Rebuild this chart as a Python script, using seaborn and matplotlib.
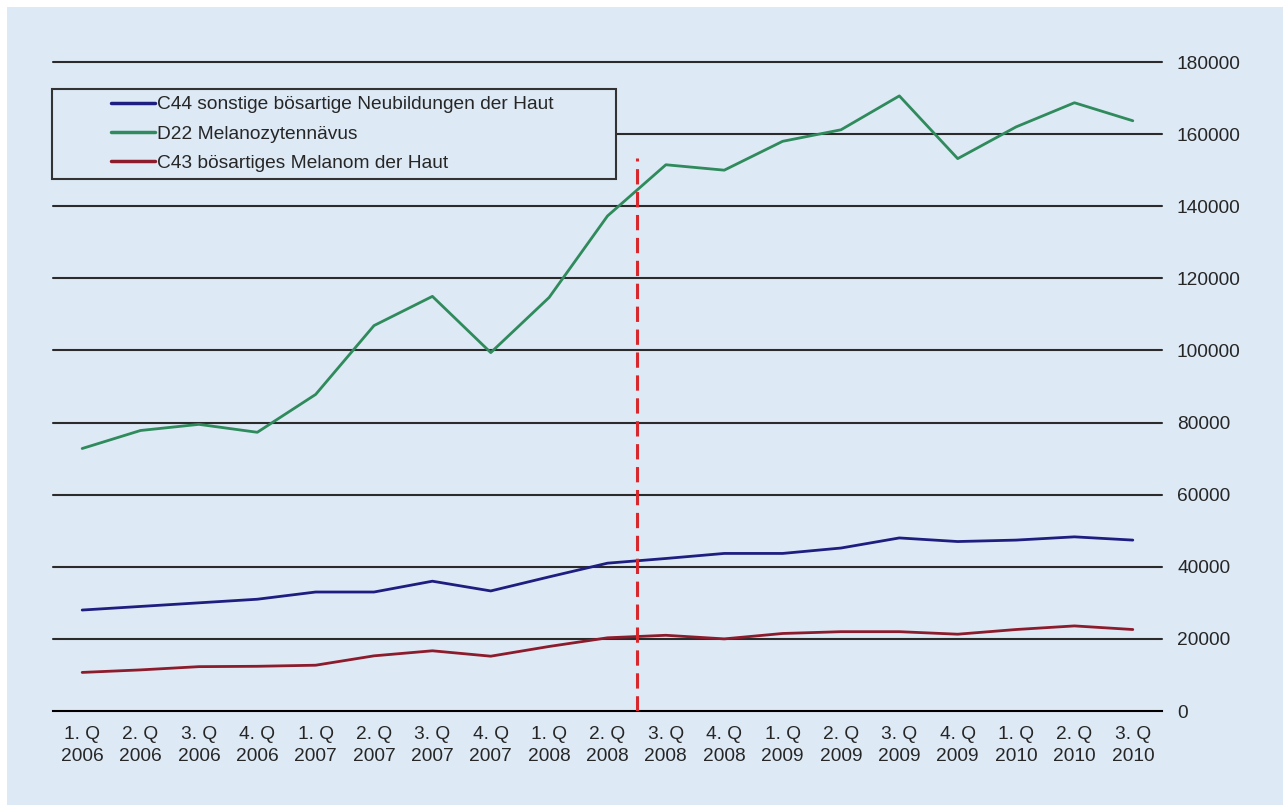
import matplotlib
matplotlib.use('Agg')

import matplotlib.pyplot as plt
import numpy as np
import pandas as pd
import seaborn as sns
from matplotlib.patches import Rectangle
from matplotlib.ticker import FixedLocator

# ------------------------------------------------------------
#     Data
# ------------------------------------------------------------

quarters = [
    "1. Q\n2006", "2. Q\n2006", "3. Q\n2006", "4. Q\n2006",
    "1. Q\n2007", "2. Q\n2007", "3. Q\n2007", "4. Q\n2007",
    "1. Q\n2008", "2. Q\n2008", "3. Q\n2008", "4. Q\n2008",
    "1. Q\n2009", "2. Q\n2009", "3. Q\n2009", "4. Q\n2009",
    "1. Q\n2010", "2. Q\n2010", "3. Q\n2010",
]

c44_values = [28000, 29000, 30000, 31000, 33000, 33000, 36000, 33300, 37200, 41000,
              42300, 43700, 43700, 45200, 48000, 47000, 47400, 48300, 47400]
d22_values = [72800, 77800, 79500, 77300, 87800, 106900, 115000, 99400, 114700, 137300,
              151500, 150000, 158000, 161200, 170600, 153200, 162000, 168700, 163700]
c43_values = [10700, 11400, 12300, 12400, 12700, 15300, 16700, 15200, 17900, 20300,
              21000, 20000, 21500, 22000, 22000, 21300, 22600, 23600, 22600]

series_names = [
    "C44 sonstige bösartige Neubildungen der Haut",
    "D22 Melanozytennävus",
    "C43 bösartiges Melanom der Haut",
]
series_colors = ["#1e1e80", "#2f8a5c", "#8c1b2b"]

y_ticks = [0, 20000, 40000, 60000, 80000, 100000, 120000, 140000, 160000, 180000]

# position of the red dashed break line (between 2. Q 2008 and 3. Q 2008)
break_pos = 9.5
break_top = 153500

# ------------------------------------------------------------
#     Build table
# ------------------------------------------------------------

rows = []
for name, vals in zip(series_names, [c44_values, d22_values, c43_values]):
    for i, v in enumerate(vals):
        rows.append({"pos": i, "value": v, "series": name})
df = pd.DataFrame(rows)

# ------------------------------------------------------------
#     Plot
# ------------------------------------------------------------

sns.set_style("white")
plt.rcParams['font.family'] = ['Liberation Sans', 'DejaVu Sans']

fs = 13.8
bg = "#dde9f5"
W, H = 1283, 805
fig = plt.figure(figsize=(W / 100, H / 100), dpi=100, facecolor="white")
fig.patches.append(Rectangle((7 / W, 0), 1 - 7 / W, 1 - 7 / H, transform=fig.transFigure,
                             facecolor=bg, edgecolor="none", zorder=-10))

ax = fig.add_axes([53 / W, 94 / H, 1109 / W, 649 / H])
ax.set_facecolor(bg)

# horizontal grid lines
for yv in y_ticks[1:]:
    ax.axhline(yv, color="#2b2b2b", lw=1.5, zorder=1, clip_on=False)

sns.lineplot(data=df, x="pos", y="value", hue="series", palette=dict(zip(series_names, series_colors)),
             linewidth=2.0, legend=False, ax=ax, zorder=3)

# break line
ax.vlines(break_pos, 0, break_top, colors="#d6282d", linestyles=(0, (5, 2.5)), lw=2.2, zorder=4)

ax.set_xlim(-0.5, len(quarters) - 0.5)
ax.set_ylim(0, 180000)
ax.set_xlabel("")
ax.set_ylabel("")

for s in ["top", "right", "left"]:
    ax.spines[s].set_visible(False)
ax.spines["bottom"].set_color("black")
ax.spines["bottom"].set_linewidth(1.5)

# x axis: labels at category centres, tick marks at boundaries
ax.set_xticks(range(len(quarters)))
ax.set_xticklabels(quarters, fontsize=fs, color="#262626", linespacing=1.35)
ax.xaxis.set_minor_locator(FixedLocator(np.arange(-0.5, len(quarters), 1.0)))
ax.tick_params(axis="x", which="major", length=0, pad=11)
ax.tick_params(axis="x", which="minor", length=4, width=1.5, color="black", direction="out")

# y axis on the right, no tick marks
ax.yaxis.tick_right()
ax.set_yticks(y_ticks)
ax.set_yticklabels([str(v) for v in y_ticks], fontsize=fs, color="#262626")
ax.tick_params(axis="y", length=0, pad=10.8)

# legend: own frame, entries from the line handles
handles = [plt.Line2D([], [], color=c, lw=2.5) for c in series_colors]
frame = Rectangle(((52 - 53) / 1109, (711 - 179) / 649), (616 - 52) / 1109, (179 - 89) / 649,
                  transform=ax.transAxes, facecolor=bg, edgecolor="#333333", lw=1.5,
                  clip_on=False, zorder=5)
ax.add_patch(frame)
leg = ax.legend(handles, series_names, loc="upper left",
                bbox_to_anchor=((111 - 53) / 1109, (711 - 96) / 649),
                frameon=False, fontsize=fs, handlelength=2.3, handletextpad=0.12,
                labelspacing=0.62, borderpad=0, borderaxespad=0)
for t in leg.get_texts():
    t.set_color("#262626")
leg.set_zorder(6)

plt.savefig("out.png", dpi=100, facecolor="white")
